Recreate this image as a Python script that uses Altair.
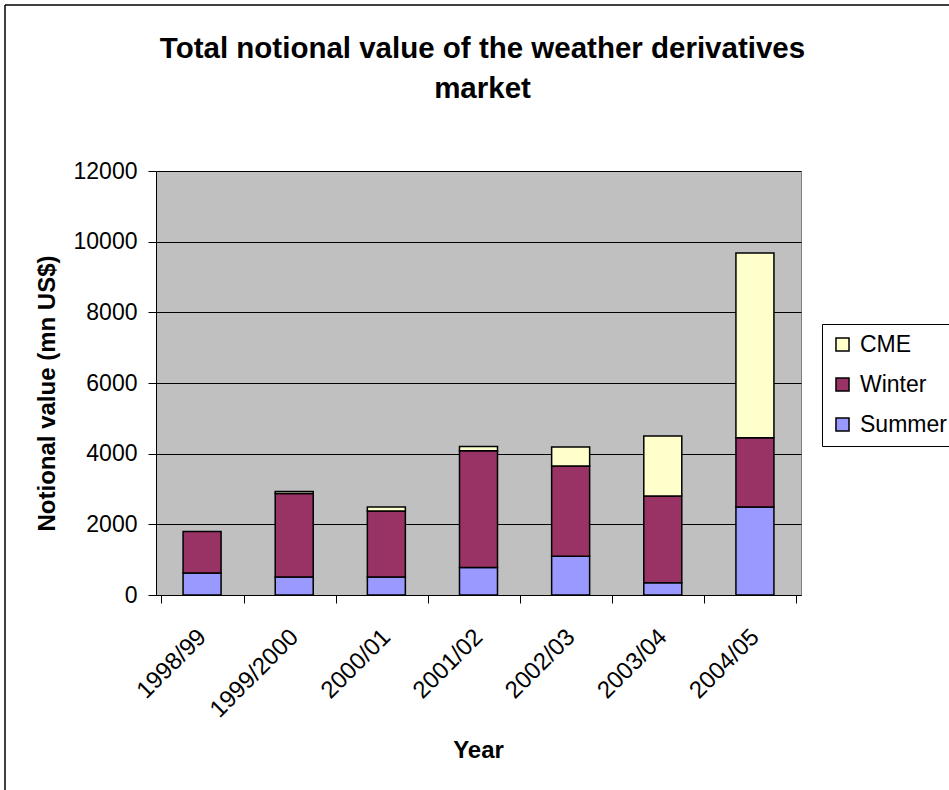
import altair as alt
import pandas as pd

# Seasons of the weather derivatives market
years = ["1998/99", "1999/2000", "2000/01", "2001/02", "2002/03", "2003/04", "2004/05"]
summer = [620, 510, 510, 780, 1100, 350, 2490]
winter = [1180, 2360, 1870, 3300, 2550, 2450, 1960]
cme = [0, 60, 110, 120, 540, 1700, 5230]

stack_names = ["Summer", "Winter", "CME"]      # bottom to top
legend_names = ["CME", "Winter", "Summer"]     # legend top to bottom
legend_colors = ["#FFFFCC", "#993366", "#9999FF"]
y_ticks = [0, 2000, 4000, 6000, 8000, 10000, 12000]

rows = []
for pos, (name, vals) in enumerate(zip(stack_names, [summer, winter, cme])):
    for yr, v in zip(years, vals):
        rows.append({"year": yr, "series": name, "value": v, "stack_pos": pos})
df = pd.DataFrame(rows)

FONT = "Liberation Sans"

bars = (
    alt.Chart(df)
    .transform_filter("datum.value > 0")
    .mark_bar(size=38, stroke="black", strokeWidth=1.5)
    .encode(
        x=alt.X(
            "year:N",
            sort=years,
            title="Year",
            axis=alt.Axis(
                grid=False,
                tickBand="extent",
                tickSize=8,
                labelAngle=-45,
                labelAlign="right",
                labelBaseline="middle",
                labelPadding=30,
                labelFontSize=24,
                titleX=322,
                titleY=162,
                titleBaseline="alphabetic",
            ),
        ),
        y=alt.Y(
            "value:Q",
            stack="zero",
            title="Notional value (mn US$)",
            scale=alt.Scale(domain=[0, 12000], nice=False),
            axis=alt.Axis(
                values=y_ticks,
                format="d",
                grid=True,
                tickSize=8,
                labelPadding=11,
                titleX=-109,
                titleY=222,
                titleAngle=-90,
                titleBaseline="middle",
                titleAlign="center",
            ),
        ),
        color=alt.Color(
            "series:N",
            scale=alt.Scale(domain=legend_names, range=legend_colors),
            legend=alt.Legend(
                title=None,
                orient="none",
                legendX=666,
                legendY=153,
                strokeColor="black",
                fillColor="white",
                padding=9,
                symbolType="square",
                symbolSize=170,
                symbolStrokeColor="black",
                symbolStrokeWidth=1.5,
                labelFontSize=23,
                labelFont=FONT,
                labelColor="black",
                rowPadding=16,
                labelOffset=6,
            ),
        ),
        order=alt.Order("stack_pos:Q", sort="ascending"),
    )
)

# outer chart frame (left and top edges)
frame_src = alt.Data(values=[{}])
frame_left = alt.Chart(frame_src).mark_rule(color="black", strokeWidth=1.5).encode(
    x=alt.value(-151), y=alt.value(-166), y2=alt.value(640)
)
frame_top = alt.Chart(frame_src).mark_rule(color="black", strokeWidth=1.5).encode(
    x=alt.value(-151), x2=alt.value(800), y=alt.value(-166)
)

chart = (
    alt.layer(bars, frame_left, frame_top)
    .properties(
        width=645,
        height=424,
        autosize=alt.AutoSizeParams(type="none"),
        padding={"left": 156, "top": 171, "right": 148, "bottom": 195},
        background="white",
        title=alt.TitleParams(
            text=["Total notional value of the weather derivatives", "market"],
            anchor="middle",
            frame="group",
            font=FONT,
            fontSize=29.5,
            fontWeight="bold",
            color="black",
            lineHeight=40,
            offset=-100,
            dx=4,
        ),
    )
    .configure_view(fill="#C0C0C0", stroke="#808080", strokeWidth=1)
    .configure_axis(
        labelFont=FONT,
        titleFont=FONT,
        labelFontSize=23,
        titleFontSize=24,
        titleFontWeight="bold",
        labelColor="black",
        titleColor="black",
        domainColor="black",
        domainWidth=1,
        tickColor="black",
        tickWidth=1,
        gridColor="black",
        gridWidth=1,
        gridOpacity=1,
    )
)

chart.save("out.html", embed_options={"renderer": "svg", "actions": False})
